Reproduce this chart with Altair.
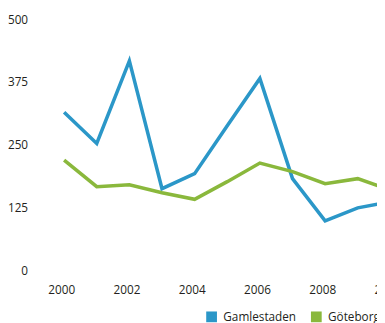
import altair as alt
import pandas as pd

years = [2000, 2001, 2002, 2003, 2004, 2005, 2006, 2007, 2008, 2009, 2010]
gamlestaden = [315, 253, 417, 163, 193, 288, 382, 183, 99, 125, 137]
goteborg = [220, 167, 171, 155, 142, 177, 214, 197, 173, 183, 160]
series = ["Gamlestaden", "Göteborg"]
colors = ["#2b97c8", "#8ab83c"]
x_ticks = [2000, 2002, 2004, 2006, 2008, 2010]
y_ticks = [0, 125, 250, 375, 500]

df = pd.DataFrame(
    [{"year": y, "series": series[0], "value": v} for y, v in zip(years, gamlestaden)]
    + [{"year": y, "series": series[1], "value": v} for y, v in zip(years, goteborg)]
)

chart = (
    alt.Chart(df)
    .mark_line(strokeWidth=3.6)
    .encode(
        x=alt.X(
            "year:Q",
            scale=alt.Scale(domain=[1999, 2011], nice=False, range=[0, 400]),
            axis=alt.Axis(values=x_ticks, format="d", title=None, domain=False,
                          ticks=False, grid=False, labelPadding=14, labelOffset=-3),
        ),
        y=alt.Y(
            "value:Q",
            scale=alt.Scale(domain=[0, 500], nice=False),
            axis=alt.Axis(values=y_ticks, title=None, domain=False, ticks=False,
                          grid=False, labelPadding=4),
        ),
        color=alt.Color(
            "series:N",
            scale=alt.Scale(domain=series, range=colors),
            legend=alt.Legend(
                title=None, orient="none", direction="horizontal",
                legendX=178, legendY=298, symbolType="square", symbolSize=30,
                symbolStrokeWidth=5.5, columnPadding=6, labelFontSize=12,
                labelOffset=6,
            ),
        ),
    )
    .properties(
        width=353, height=257,
        autosize=alt.AutoSizeParams(type="none"),
        padding={"left": 24, "top": 8, "right": 0, "bottom": 50},
    )
    .configure(font="Open Sans")
    .configure_view(stroke=None)
    .configure_axis(labelFontSize=12, labelColor="#231f20")
    .configure_legend(labelColor="#231f20")
)

chart.save("out.html", embed_options={"renderer": "svg", "actions": False})
